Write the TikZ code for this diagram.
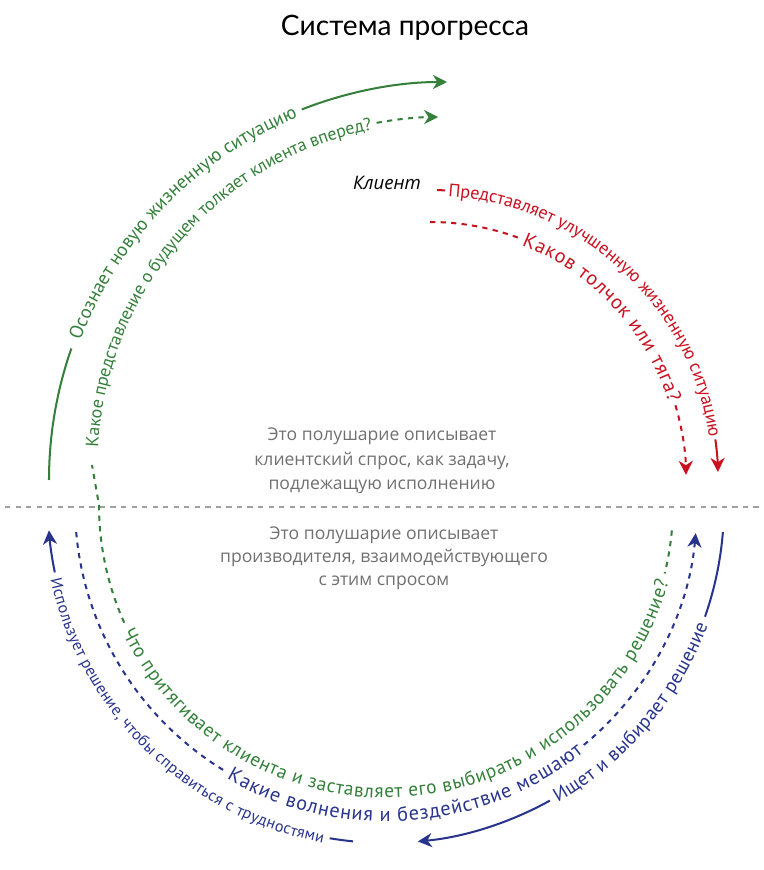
\documentclass[tikz,border=0pt]{standalone}
\usepackage{fontspec}
\setmainfont{Open Sans}
\newfontfamily\titlefont{Lato}
\newfontfamily\arcfamily{PT Sans}
\usetikzlibrary{arrows.meta, decorations.text}

\definecolor{cgreen}{RGB}{52,128,58}
\definecolor{cred}{RGB}{200,18,32}
\definecolor{cblue}{RGB}{40,52,140}
\definecolor{cgray}{RGB}{112,112,112}
\definecolor{lgray}{RGB}{160,160,160}

\newcommand\greenarc{\arcfamily\color{cgreen}\fontsize{10.8}{12}\selectfont}
\newcommand\greensmall{\arcfamily\color{cgreen}\fontsize{10.2}{11}\selectfont}
\newcommand\greenlow{\arcfamily\color{cgreen}\fontsize{11}{12}\selectfont}
\newcommand\redarc{\arcfamily\color{cred}\fontsize{10.3}{12}\selectfont}
\newcommand\redbig{\arcfamily\color{cred}\fontsize{11.5}{12}\selectfont}
\newcommand\bluearc{\arcfamily\color{cblue}\fontsize{11}{12}\selectfont}
\newcommand\bluebig{\arcfamily\color{cblue}\fontsize{11.5}{12}\selectfont}
\newcommand\bluesmall{\arcfamily\color{cblue}\fontsize{9.2}{10}\selectfont}

\tikzset{
  solidline/.style={line width=1.15pt},
  dashline/.style={line width=1.15pt, dash pattern=on 3pt off 3pt},
  tip/.style={-{Stealth[length=8pt,width=8pt,inset=2.5pt]}},
  arctext/.style={decorate, decoration={text along path, text align=fit to path, raise=-3.3pt, text={#1}}},
  halftext/.style={font=\fontsize{10}{14}\selectfont, text=cgray, align=center},
}

\begin{document}
\begin{tikzpicture}[x=0.02cm, y=0.02cm]
  \useasboundingbox (0,0) rectangle (764,870);

  % centres of the arcs
  \coordinate (gout) at (447,390);
  \coordinate (gin)  at (440,405);
  \coordinate (rc)   at (430,392);
  \coordinate (lc)   at (386,365);

  \node[font=\titlefont\fontsize{16}{19}\selectfont] (title) at (405,842) {Система прогресса};

  % dividing line
  \coordinate (west) at (5,363);
  \coordinate (east) at (760,363);
  \draw[lgray, line width=0.9pt, dash pattern=on 3pt off 3pt] (west) -- (east);

  \node[halftext] (demand) at (382,409) {Это полушарие описывает\\клиентский спрос, как задачу,\\подлежащую исполнению};
  \node[halftext, font=\fontsize{10}{13}\selectfont] (supply) at (384,312) {Это полушарие описывает\\производителя, взаимодействующего\\с этим спросом};

  \node[font=\itshape\fontsize{10.6}{12}\selectfont] (client) at (387,687) {Клиент};

  % upper half, green
  \draw[solidline, cgreen] ([shift={(180:398)}]gout) arc[start angle=180, end angle=160.7, radius=398];
  \path[arctext={|\greenarc|Осознает новую жизненную ситуацию}] ([shift={(159.2:398)}]gout) arc[start angle=159.2, end angle=112.4, radius=398];
  \draw[solidline, cgreen, tip] ([shift={(111.4:398)}]gout) arc[start angle=111.4, end angle=90, radius=398];

  \path[arctext={|\greensmall|Какое представление о будущем толкает клиента вперед?}] ([shift={(177:348)}]gin) arc[start angle=177, end angle=102, radius=348];
  \draw[dashline, cgreen, tip] ([shift={(100.5:348)}]gin) arc[start angle=100.5, end angle=90.3, radius=348];

  % upper half, red
  \draw[solidline, cred] ([shift={(88.6:288)}]rc) arc[start angle=88.6, end angle=87, radius=288];
  \path[arctext={|\redarc|Представляет улучшенную жизненную ситуацию}] ([shift={(86.3:288)}]rc) arc[start angle=86.3, end angle=8.3, radius=288];
  \draw[solidline, cred, tip] ([shift={(7.7:288)}]rc) arc[start angle=7.7, end angle=1.2, radius=288];

  \draw[dashline, cred] ([shift={(90:256)}]rc) arc[start angle=90, end angle=69.5, radius=256];
  \path[arctext={|\redbig|Каков толчок или тяга?}] ([shift={(68.5:256)}]rc) arc[start angle=68.5, end angle=17.5, radius=256];
  \draw[dashline, cred, tip] ([shift={(16.5:256)}]rc) arc[start angle=16.5, end angle=0.7, radius=256];

  % lower half, green
  \draw[dashline, cgreen] ([shift={(-5.1:287)}]lc) arc[start angle=-5.1, end angle=-13.8, radius=287];
  \path[arctext={|\greenlow|Что притягивает клиента и заставляет его выбирать и использовать решение?}] ([shift={(-154.3:287)}]lc) arc[start angle=-154.3, end angle=-15.2, radius=287];
  \draw[dashline, cgreen] ([shift={(-155.8:287)}]lc) arc[start angle=-155.8, end angle=-180, radius=287] -- ([shift={(180:348)}]gin);

  % lower half, blue
  \draw[dashline, cblue] ([shift={(-175:311)}]lc) arc[start angle=-175, end angle=-121.2, radius=311];
  \path[arctext={|\bluebig|Какие волнения и бездействие мешают}] ([shift={(-120.2:311)}]lc) arc[start angle=-120.2, end angle=-51.5, radius=311];
  \draw[dashline, cblue, tip] ([shift={(-50.5:311)}]lc) arc[start angle=-50.5, end angle=-5.2, radius=311];

  \draw[solidline, cblue] ([shift={(-4.6:338)}]lc) arc[start angle=-4.6, end angle=-19.3, radius=338];
  \path[arctext={|\bluearc|Ищет и выбирает решение}] ([shift={(-60:338)}]lc) arc[start angle=-60, end angle=-20.5, radius=338];
  \draw[solidline, cblue, tip] ([shift={(-61:338)}]lc) arc[start angle=-61, end angle=-84.6, radius=338];

  \path[arctext={|\bluesmall|Использует решение, чтобы справиться с трудностями}] ([shift={(-167.5:338)}]lc) arc[start angle=-167.5, end angle=-100.6, radius=338];
  \draw[solidline, cblue] ([shift={(-99.6:338)}]lc) arc[start angle=-99.6, end angle=-95.6, radius=338];
  \draw[solidline, cblue, tip] ([shift={(-168.5:338)}]lc) arc[start angle=-168.5, end angle=-175.7, radius=338];
\end{tikzpicture}
\end{document}
